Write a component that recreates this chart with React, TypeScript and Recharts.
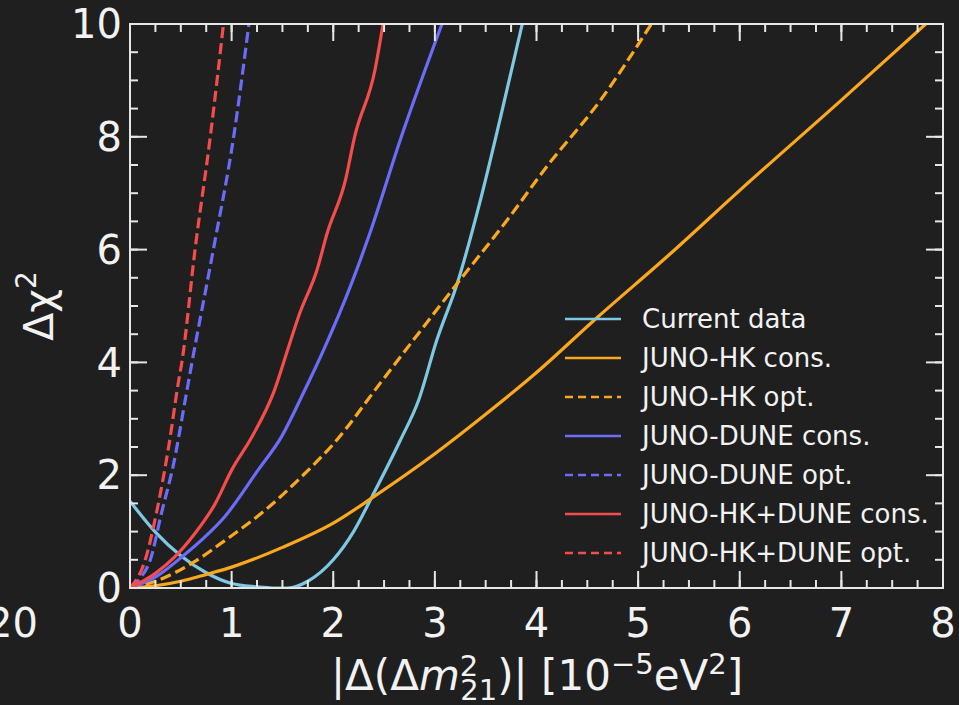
import { LineChart, Line, XAxis, YAxis } from 'recharts';

type Pt = [number, number];

// values, [|Δ(Δm²21)|, Δχ²]
const CURRENT_DATA: Pt[] = [
  [0, 1.54], [0.25, 0.99], [0.5, 0.57], [0.75, 0.27], [1.0, 0.08], [1.25, 0.02],
  [1.4, 0], [1.55, 0], [1.75, 0.12], [2.0, 0.5], [2.2, 1.0], [2.39, 1.65],
  [2.66, 2.62], [2.84, 3.33], [3.02, 4.4], [3.22, 5.4], [3.44, 6.82], [3.64, 8.3], [3.86, 10],
];
const HK_CONS_DATA: Pt[] = [
  [0, 0], [0.25, 0.04], [0.5, 0.12], [0.75, 0.24], [1.0, 0.37], [1.5, 0.72], [2.0, 1.15],
  [2.4, 1.62], [3.0, 2.38], [3.5, 3.08], [4.0, 3.82], [4.6, 4.8], [5.3, 5.9], [6.0, 7.05],
  [7.0, 8.65], [7.83, 10],
];
const HK_OPT_DATA: Pt[] = [
  [0, 0], [0.28, 0.14], [0.61, 0.44], [0.94, 0.85], [1.33, 1.38], [1.72, 2.03], [2.0, 2.55],
  [2.47, 3.65], [2.79, 4.4], [3.22, 5.4], [3.71, 6.52], [4.1, 7.47], [4.63, 8.65], [5.13, 10],
];
const DUNE_CONS_DATA: Pt[] = [
  [0, 0], [0.28, 0.23], [0.51, 0.55], [0.74, 0.91], [0.93, 1.26], [1.26, 2.09], [1.49, 2.68],
  [1.72, 3.51], [1.89, 4.16], [2.18, 5.4], [2.36, 6.29], [2.67, 8.0], [3.07, 10],
];
const DUNE_OPT_DATA: Pt[] = [
  [0.02, 0], [0.1, 0.17], [0.2, 0.5], [0.31, 1.33], [0.43, 2.21], [0.55, 3.4], [0.61, 4.0],
  [0.82, 6.0], [1.02, 8.0], [1.17, 10],
];
const COMBO_CONS_DATA: Pt[] = [
  [0, 0], [0.25, 0.26], [0.44, 0.55], [0.64, 0.97], [0.84, 1.5], [1.0, 2.09], [1.2, 2.68],
  [1.42, 3.5], [1.54, 4.16], [1.67, 4.87], [1.84, 5.64], [1.94, 6.29], [2.12, 7.23],
  [2.21, 8.0], [2.41, 9.18], [2.49, 10],
];
const COMBO_OPT_DATA: Pt[] = [
  [0, 0], [0.15, 0.5], [0.26, 1.33], [0.38, 2.5], [0.48, 3.69], [0.51, 4.0], [0.64, 6.0],
  [0.79, 8.0], [0.92, 10],
];

const X_TICKS = [0, 1, 2, 3, 4, 5, 6, 7, 8];
const X_MINOR_TICKS = [
  0, 0.25, 0.5, 0.75, 1, 1.25, 1.5, 1.75, 2, 2.25, 2.5, 2.75, 3, 3.25, 3.5, 3.75, 4,
  4.25, 4.5, 4.75, 5, 5.25, 5.5, 5.75, 6, 6.25, 6.5, 6.75, 7, 7.25, 7.5, 7.75, 8,
];
const Y_TICKS = [0, 2, 4, 6, 8, 10];
const Y_MINOR_TICKS = [
  0, 0.5, 1, 1.5, 2, 2.5, 3, 3.5, 4, 4.5, 5, 5.5, 6, 6.5, 7, 7.5, 8, 8.5, 9, 9.5, 10,
];

const BG = '#1f1f1f';
const AXIS = '#e6e6e6';
const TEXT = '#f2f2f2';
const FONT = '"DejaVu Sans", sans-serif';
const COLORS = {
  cyan: '#7dc8e2',
  orange: '#fba81f',
  blue: '#6a6cfa',
  red: '#f64c4c',
};

const SERIES = [
  { name: 'Current data', data: CURRENT_DATA, color: COLORS.cyan, dashed: false },
  { name: 'JUNO-HK cons.', data: HK_CONS_DATA, color: COLORS.orange, dashed: false },
  { name: 'JUNO-HK opt.', data: HK_OPT_DATA, color: COLORS.orange, dashed: true },
  { name: 'JUNO-DUNE cons.', data: DUNE_CONS_DATA, color: COLORS.blue, dashed: false },
  { name: 'JUNO-DUNE opt.', data: DUNE_OPT_DATA, color: COLORS.blue, dashed: true },
  { name: 'JUNO-HK+DUNE cons.', data: COMBO_CONS_DATA, color: COLORS.red, dashed: false },
  { name: 'JUNO-HK+DUNE opt.', data: COMBO_OPT_DATA, color: COLORS.red, dashed: true },
];

const W = 959;
const H = 705;
// every axis below is 1px thick, so the plot box ends up at 130..943 x 24..588
const MARGIN = { top: 22, right: 14, bottom: 115, left: 128 };

const tickStyle = { fill: TEXT, fontSize: 40, fontFamily: FONT };
const tickLine = { stroke: AXIS, strokeWidth: 2 };
const spine = { stroke: AXIS, strokeWidth: 2 };
// label-less ticks: a truthy tick renderer so recharts still lays the tick lines out
const noLabel = () => <g />;

export default function App() {
  return (
    <div style={{ position: 'absolute', left: 0, top: 0, width: W, height: H, background: BG, overflow: 'hidden' }}>
      <LineChart width={W} height={H} margin={MARGIN}>
        {/* ticks point inward on all four sides, majors 17px, minors 9px */}
        <XAxis
          xAxisId="x"
          type="number"
          dataKey="x"
          domain={[0, 8]}
          ticks={X_TICKS}
          interval={0}
          allowDataOverflow
          height={1}
          tickSize={-17}
          tickMargin={38}
          tick={tickStyle}
          tickLine={tickLine}
          axisLine={spine}
        />
        <XAxis
          xAxisId="xMinor"
          type="number"
          dataKey="x"
          domain={[0, 8]}
          ticks={X_MINOR_TICKS}
          interval={0}
          allowDataOverflow
          height={1}
          tickSize={-9}
          tick={noLabel}
          tickLine={tickLine}
          axisLine={false}
        />
        <XAxis
          xAxisId="xTop"
          orientation="top"
          type="number"
          dataKey="x"
          domain={[0, 8]}
          ticks={X_TICKS}
          interval={0}
          allowDataOverflow
          height={1}
          tickSize={-17}
          tick={noLabel}
          tickLine={tickLine}
          axisLine={spine}
        />
        <XAxis
          xAxisId="xTopMinor"
          orientation="top"
          type="number"
          dataKey="x"
          domain={[0, 8]}
          ticks={X_MINOR_TICKS}
          interval={0}
          allowDataOverflow
          height={1}
          tickSize={-9}
          tick={noLabel}
          tickLine={tickLine}
          axisLine={false}
        />
        <YAxis
          yAxisId="y"
          type="number"
          domain={[0, 10]}
          ticks={Y_TICKS}
          interval={0}
          allowDataOverflow
          width={1}
          tickSize={-17}
          tickMargin={25}
          tick={tickStyle}
          tickLine={tickLine}
          axisLine={spine}
        />
        <YAxis
          yAxisId="yMinor"
          type="number"
          domain={[0, 10]}
          ticks={Y_MINOR_TICKS}
          interval={0}
          allowDataOverflow
          width={1}
          tickSize={-9}
          tick={noLabel}
          tickLine={tickLine}
          axisLine={false}
        />
        <YAxis
          yAxisId="yRight"
          orientation="right"
          type="number"
          domain={[0, 10]}
          ticks={Y_TICKS}
          interval={0}
          allowDataOverflow
          width={1}
          tickSize={-17}
          tick={noLabel}
          tickLine={tickLine}
          axisLine={spine}
        />
        <YAxis
          yAxisId="yRightMinor"
          orientation="right"
          type="number"
          domain={[0, 10]}
          ticks={Y_MINOR_TICKS}
          interval={0}
          allowDataOverflow
          width={1}
          tickSize={-9}
          tick={noLabel}
          tickLine={tickLine}
          axisLine={false}
        />
        {SERIES.map((s) => (
          <Line
            key={s.name}
            xAxisId="x"
            yAxisId="y"
            name={s.name}
            data={s.data.map(([x, y]) => ({ x, y }))}
            dataKey="y"
            type="monotone"
            stroke={s.color}
            strokeWidth={3.2}
            strokeDasharray={s.dashed ? '11 5' : undefined}
            dot={false}
            activeDot={false}
            isAnimationActive={false}
          />
        ))}
      </LineChart>

      {/* axis titles and legend */}
      <svg
        width={W}
        height={H}
        style={{ position: 'absolute', left: 0, top: 0, pointerEvents: 'none' }}
        fontFamily={FONT}
      >
        <text x={38} y={637} fontSize={40} fill={TEXT} textAnchor="end">20</text>

        <text x={537} y={690} fontSize={42} fill={TEXT} textAnchor="middle">
          |Δ(Δ<tspan fontStyle="italic">m</tspan>
          <tspan fontSize={29} dy={-14}>2</tspan>
          <tspan fontSize={29} dx={-18} dy={24}>21</tspan>
          <tspan dy={-10}>)| [10</tspan>
          <tspan fontSize={29} dy={-16}>−5</tspan>
          <tspan dy={16}>eV</tspan>
          <tspan fontSize={29} dy={-16}>2</tspan>
          <tspan dy={16}>]</tspan>
        </text>

        <text x={53} y={306} fontSize={41} fill={TEXT} textAnchor="middle" transform="rotate(-90 53 306)">
          Δχ<tspan fontSize={28} dy={-17}>2</tspan>
        </text>

        {SERIES.map((s, i) => {
          const cy = 319 + i * 39;
          return (
            <g key={s.name}>
              <line
                x1={565}
                x2={621}
                y1={cy}
                y2={cy}
                stroke={s.color}
                strokeWidth={2.5}
                strokeDasharray={s.dashed ? '8 5' : undefined}
              />
              <text x={642} y={cy + 9} fontSize={26} fill={TEXT}>{s.name}</text>
            </g>
          );
        })}
      </svg>
    </div>
  );
}
